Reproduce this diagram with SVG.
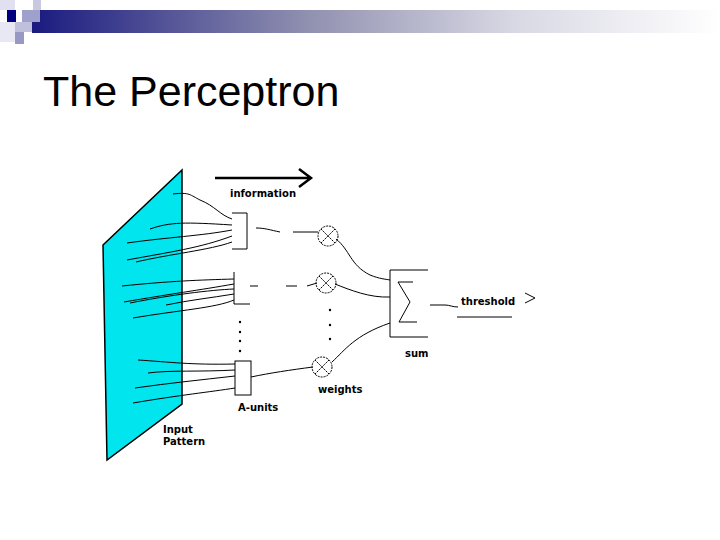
<svg xmlns="http://www.w3.org/2000/svg" width="720" height="540" viewBox="0 0 720 540">
<defs>
<linearGradient id="bar" x1="0" x2="1" y1="0" y2="0">
<stop offset="0" stop-color="#1a1a80"/><stop offset="0.4" stop-color="#9090b0"/><stop offset="0.7" stop-color="#d8d8e4"/><stop offset="1" stop-color="#ffffff"/>
</linearGradient>
<style>
.w{fill:none;stroke:#000;stroke-width:1}
.t{font-family:"DejaVu Sans",sans-serif;font-size:10px;font-weight:bold;fill:#000}
</style>
</defs>
<rect width="720" height="540" fill="#fff"/>
<g id="banner">
<rect x="32" y="10" width="688" height="23" fill="url(#bar)"/>
<rect x="0" y="0" width="15" height="10" fill="#e0e0f0"/>
<rect x="33" y="0" width="8" height="10" fill="#c8c8e0"/>
<rect x="7" y="10" width="9" height="12" fill="#000080"/>
<rect x="22" y="10" width="18" height="12" fill="#a0a0cc"/>
<rect x="0" y="22" width="15" height="20" fill="#e8e8f4"/>
<rect x="15" y="22" width="17" height="10" fill="#c0c0dc"/>
<rect x="15" y="32" width="9" height="12" fill="#9898c4"/>
</g>
<text x="43" y="106" font-family="Liberation Sans, Arial, sans-serif" font-size="43" fill="#000">The Perceptron</text>
<g id="plane"><polygon points="103,245 182,170 182,404 107,460" fill="#00e5ee" stroke="#000" stroke-width="1.5"/></g>
<g id="connectors" class="w">
<path d="M215,178 H310 M299,169 L311,178 L299,187" stroke-width="2.5"/>
<path d="M173,194 C190,192 190,195 200,200 C215,206 220,215 232,219"/>
<path d="M150,229 C170,222 185,222 232,225 M127,243 C170,237 200,236 232,230 M127,260 C170,252 200,248 232,236 M136,262 C170,254 210,250 232,242"/>
<path d="M122,286 C170,281 200,280 234,279 M124,302 C170,294 200,290 234,284 M130,303 C170,295 210,290 234,289 M166,305 C190,300 210,298 234,294 M133,318 C180,310 215,308 234,300"/>
<path d="M138,360 C170,362 190,365 235,364 M148,373 C170,370 200,372 235,370 M135,388 C170,383 200,380 235,376 M133,403 C180,395 210,392 235,388"/>
<path d="M256,228 C265,228 270,230 280,232 M293,232 H318"/>
<path d="M250,286 H258 M286,286 H297 M307,286 L317,283"/>
<path d="M251,377 C270,373 290,370 313,367"/>
<path d="M336,239 C350,250 350,265 370,275 C380,279 385,279 390,280"/>
<path d="M335,284 C350,290 370,298 390,297"/>
<path d="M332,362 C345,350 355,335 390,323"/>
<path d="M430,305 H445 C450,305 452,307 458,307"/>
<path d="M457,317 H512"/>
<path d="M525,293 L535,298 L525,303"/>
</g>
<g id="aunit1" class="w"><path d="M232,213 H247 V249 H232"/></g>
<g id="aunit2" class="w"><path d="M234,272 V304 H250"/></g>
<g id="aunit3"><rect x="235" y="361" width="16" height="34" fill="#fff" stroke="#000"/></g>
<g fill="#000">
<circle cx="240" cy="322" r="1.2"/><circle cx="240" cy="332" r="1.2"/><circle cx="240" cy="341" r="1.2"/><circle cx="240" cy="351" r="1.2"/>
<circle cx="330" cy="310" r="1.2"/><circle cx="330" cy="325" r="1.2"/><circle cx="330" cy="339" r="1.2"/>
</g>
<g id="w1" class="w" stroke-dasharray="2,1"><circle cx="328" cy="236" r="10"/><path d="M321,229 L335,243 M335,229 L321,243"/></g>
<g id="w2" class="w" stroke-dasharray="2,1"><circle cx="326" cy="283" r="10"/><path d="M319,276 L333,290 M333,276 L319,290"/></g>
<g id="w3" class="w" stroke-dasharray="2,1"><circle cx="322" cy="367" r="10"/><path d="M315,360 L329,374 M329,360 L315,374"/></g>
<g id="sum">
<path class="w" d="M428,270 H390 V337 H428"/>
<path class="w" stroke-width="2" d="M413,282 H398 L410,302 L399,322 H417"/>
</g>
<text class="t" x="263" y="197" text-anchor="middle">information</text>
<text class="t" x="461" y="305">threshold</text>
<text class="t" x="405" y="357">sum</text>
<text class="t" x="318" y="393">weights</text>
<text class="t" x="238" y="411">A-units</text>
<text class="t" x="163" y="433">Input</text>
<text class="t" x="163" y="445">Pattern</text>
</svg>
